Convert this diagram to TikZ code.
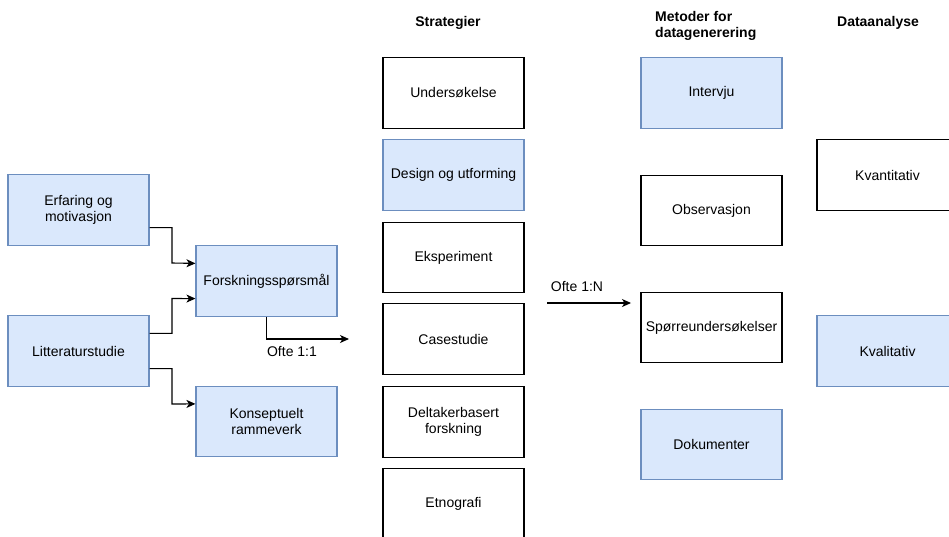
\documentclass[tikz,border=0pt]{standalone}
\usepackage{fontspec}
\setmainfont{Liberation Sans}
\usetikzlibrary{arrows.meta}
\definecolor{bfill}{HTML}{DAE8FC}
\definecolor{bdraw}{HTML}{6C8EBF}
\begin{document}
\begin{tikzpicture}[x=1pt,y=-1pt,
  font=\fontsize{14}{16.5}\selectfont,
  box/.style={rectangle,minimum width=141pt,minimum height=70.5pt,inner sep=2pt,align=center,line width=1.1pt},
  bluebox/.style={box,draw=bdraw,fill=bfill},
  whitebox/.style={box,draw=black,fill=white},
  head/.style={font=\fontsize{14}{16.5}\selectfont\bfseries,inner sep=0pt},
  conn/.style={line width=1.1pt,-{Stealth[length=9pt,width=8pt,inset=2.5pt]}},
  lbl/.style={inner sep=1pt}]
\useasboundingbox (0,0) rectangle (949,536);
% left
\node[bluebox] (erf) at (78.5,210) {Erfaring og\\motivasjon};
\node[bluebox] (lit) at (78.5,351) {Litteraturstudie};
\node[bluebox] (fsp) at (266.5,281) {Forskningsspørsmål};
\node[bluebox] (kon) at (266.5,421.5) {Konseptuelt\\rammeverk};
% strategier
\node[head] (hstr) at (448,23) {Strategier};
\node[whitebox] (s1) at (453.5,93) {Undersøkelse};
\node[bluebox] (s2) at (453.5,175) {Design og utforming};
\node[whitebox] (s3) at (453.5,257.5) {Eksperiment};
\node[whitebox] (s4) at (453.5,339) {Casestudie};
\node[whitebox] (s5) at (453.5,422) {Deltakerbasert\\forskning};
\node[whitebox] (s6) at (453.5,504) {Etnografi};
% metoder
\node[head,align=left,anchor=west] (hmet) at (655,26) {Metoder for\\datagenerering};
\node[bluebox] (m1) at (711.5,93) {Intervju};
\node[whitebox] (m2) at (711.5,210.5) {Observasjon};
\node[whitebox] (m3) at (711.5,327.5) {Spørreundersøkelser};
\node[bluebox] (m4) at (711.5,444.5) {Dokumenter};
% dataanalyse
\node[head] (hda) at (878,23) {Dataanalyse};
\node[whitebox] (d1) at (887.5,175) {Kvantitativ};
\node[bluebox] (d2) at (887.5,351) {Kvalitativ};
% connectors
\draw[conn] ([yshift=-17.6pt]erf.east) -| (172,263) -- ([yshift=17.6pt]fsp.west);
\draw[conn] ([yshift=17.6pt]lit.east) -| (172,298.5) -- ([yshift=-17.6pt]fsp.west);
\draw[conn] ([yshift=-17.6pt]lit.east) -| (172,404) -- ([yshift=17.6pt]kon.west);
\coordinate (e11) at (349,339);
\draw[conn] (fsp.south) |- (e11);
\node[lbl] (l11) at (292,351) {Ofte 1:1};
\coordinate (a1n) at (547,303);
\coordinate (b1n) at (631,303);
\draw[conn] (a1n) -- (b1n);
\node[lbl] (l1n) at (577,286) {Ofte 1:N};
\end{tikzpicture}
\end{document}
